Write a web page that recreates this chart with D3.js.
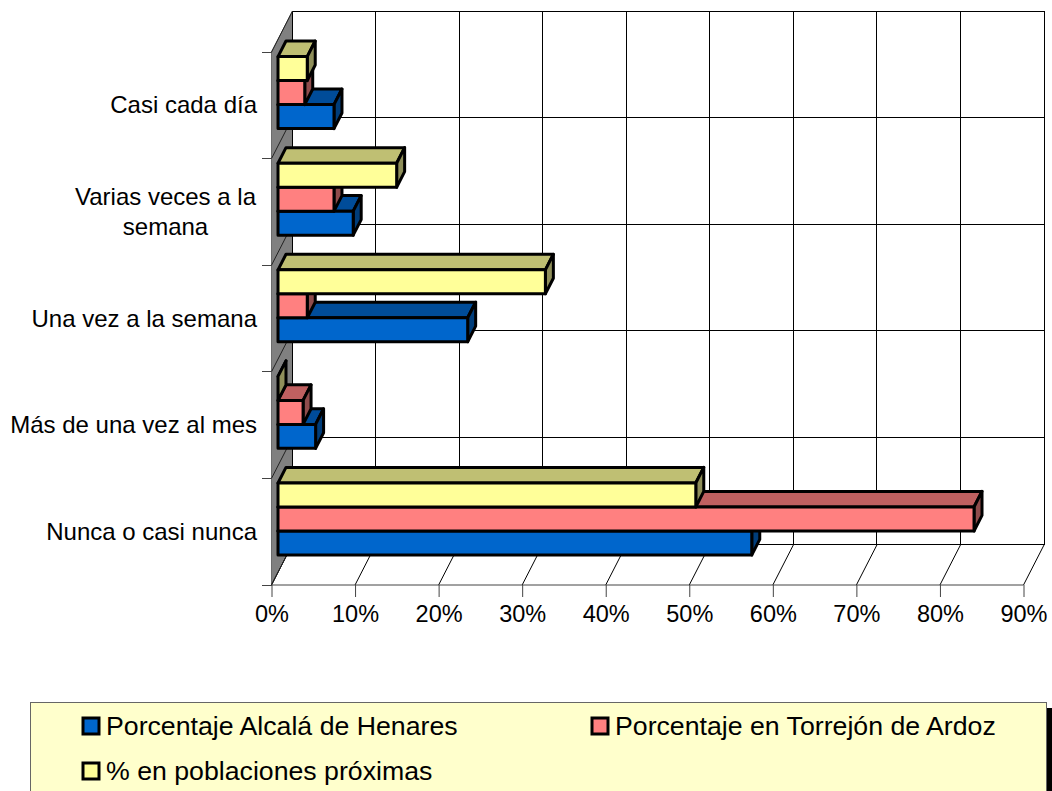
<!DOCTYPE html>
<html>
<head>
<meta charset="utf-8">
<script src="https://cdn.jsdelivr.net/npm/d3@7"></script>
<style>
    html, body { margin: 0; padding: 0; background: #fff; overflow: hidden; }
    svg { display: block; }
    text { font-family: "Liberation Sans", Arial, sans-serif; fill: #000; }
</style>
</head>
<body>
<div id="chart"></div>
<script>
// Data (top to bottom)
const categories = ["Casi cada día", "Varias veces a la semana", "Una vez a la semana", "Más de una vez al mes", "Nunca o casi nunca"];
const categoryLines = [["Casi cada día"], ["Varias veces a la", "semana"], ["Una vez a la semana"], ["Más de una vez al mes"], ["Nunca o casi nunca"]];
const seriesNames = ["Porcentaje Alcalá de Henares", "Porcentaje en Torrejón de Ardoz", "% en poblaciones próximas"];
const alcala = [6.7, 9.0, 22.7, 4.5, 56.7];
const torrejon = [3.2, 6.7, 3.5, 3.0, 83.3];
const proximas = [3.5, 14.2, 32.0, 0, 50.0];
const xTicks = [0, 10, 20, 30, 40, 50, 60, 70, 80, 90];
const fronts = ["#0066CC", "#FF8080", "#FFFF99"];
const tops = ["#004C99", "#BF6060", "#BFBF73"];
const sides = ["#003D7A", "#8F4C4C", "#8F8F5A"];

const width = 1052, height = 791;
const svg = d3.select("#chart").append("svg").attr("width", width).attr("height", height);

// Scales on the front edge of the floor
const x = d3.scaleLinear().domain([0, 90]).range([271.5, 1023.5]);
const y = d3.scaleBand().domain(categories).range([52, 585]);
const depthX = 21, depthY = -41;
const barFrom = 0.31, barTo = 0.69;   // where the bars sit in the depth

const floorY = y.range()[1];
const rowEdges = d3.range(categories.length + 1).map(i => y.range()[0] + i * y.step());
const poly = pts => pts.map(p => p.join(",")).join(" ");

// Side wall
svg.append("polygon")
    .attr("points", poly([[x(0), y.range()[0]], [x(0) + depthX, y.range()[0] + depthY], [x(0) + depthX, floorY + depthY], [x(0), floorY]]))
    .attr("fill", "#808080").attr("stroke", "#333").attr("stroke-width", 0.6);

// Grid on the back wall and floor
const grid = svg.append("g").attr("fill", "none").attr("stroke", "#000").attr("stroke-width", 1);
xTicks.forEach(t => {
    grid.append("line").attr("x1", x(t) + depthX - 0.5).attr("x2", x(t) + depthX - 0.5)
        .attr("y1", y.range()[0] + depthY).attr("y2", floorY + depthY)
        .attr("shape-rendering", "crispEdges");
    grid.append("line").attr("x1", x(t)).attr("x2", x(t) + depthX)
        .attr("y1", floorY).attr("y2", floorY + depthY);
});
rowEdges.forEach(e => {
    grid.append("line").attr("x1", x(0) + depthX).attr("x2", x(90) + depthX)
        .attr("y1", e + depthY).attr("y2", e + depthY)
        .attr("shape-rendering", "crispEdges");
    grid.append("line").attr("x1", x(0)).attr("x2", x(0) + depthX)
        .attr("y1", e).attr("y2", e + depthY).attr("stroke", "#222");
    // category tick
    grid.append("line").attr("x1", x(0) - 10).attr("x2", x(0))
        .attr("y1", e).attr("y2", e).attr("stroke", "#444")
        .attr("shape-rendering", "crispEdges");
});

// X axis
const xAxis = svg.append("g")
    .attr("transform", `translate(0,${floorY})`)
    .call(d3.axisBottom(x).tickValues(xTicks).tickFormat(d => d + "%").tickSize(12).tickPadding(8));
xAxis.select(".domain").attr("stroke", "#444").attr("d", `M${x(0)},0H${x(90)}`);
xAxis.selectAll("line").attr("stroke", "#444");
xAxis.selectAll("text").attr("font-size", 23.5).attr("font-family", '"Liberation Sans", Arial, sans-serif').attr("fill", "#000");

// Category labels
categories.forEach((c, i) => {
    const lines = categoryLines[i];
    const cy = y(c) + y.bandwidth() / 2;
    const label = svg.append("text")
        .attr("font-size", 24)
        .attr("text-anchor", lines.length > 1 ? "middle" : "end");
    lines.forEach((l, j) => {
        label.append("tspan")
            .attr("x", lines.length > 1 ? 165.5 : 257)
            .attr("y", cy + 8 + (j - (lines.length - 1) / 2) * 30)
            .text(l);
    });
});

// Bars
const barsHeight = y.step() * 0.675;
const bar = d3.scaleBand().domain([2, 1, 0]).range([0, barsHeight]);
const seriesValues = [alcala, torrejon, proximas];
const barLayer = svg.append("g").attr("stroke", "#000").attr("stroke-width", 3).attr("stroke-linejoin", "round");

categories.forEach((c, i) => {
    const top0 = y(c) + (y.step() - barsHeight) / 2 + depthY * barFrom;
    const left = x(0) + depthX * barFrom;
    const dx = depthX * (barTo - barFrom), dy = depthY * (barTo - barFrom);
    [0, 1, 2].forEach(s => {
        const right = left + x(seriesValues[s][i]) - x(0);
        const y0 = top0 + bar(s), y1 = y0 + bar.bandwidth();
        barLayer.append("polygon")
            .attr("points", poly([[left, y0], [right, y0], [right + dx, y0 + dy], [left + dx, y0 + dy]]))
            .attr("fill", tops[s]);
        barLayer.append("polygon")
            .attr("points", poly([[right, y0], [right + dx, y0 + dy], [right + dx, y1 + dy], [right, y1]]))
            .attr("fill", sides[s]);
        if (seriesValues[s][i] > 0) {
            barLayer.append("rect")
                .attr("x", left).attr("y", y0)
                .attr("width", right - left).attr("height", bar.bandwidth())
                .attr("fill", fronts[s]);
        }
    });
});

// Legend
const legend = svg.append("g");
legend.append("rect").attr("x", 36).attr("y", 708).attr("width", 1016).attr("height", 90).attr("fill", "#000");
legend.append("rect").attr("x", 30.5).attr("y", 702.5).attr("width", 1016).attr("height", 100)
    .attr("fill", "#FFFFCC").attr("stroke", "#666").attr("stroke-width", 1);

const legendPos = [[82, 735], [591, 735], [82, 780]];
seriesNames.forEach((name, s) => {
    const [lx, ly] = legendPos[s];
    legend.append("rect").attr("x", lx + 1).attr("y", ly - 17).attr("width", 16).attr("height", 16)
        .attr("fill", fronts[s]).attr("stroke", "#000").attr("stroke-width", 3);
    legend.append("text").attr("x", lx + 24).attr("y", ly).attr("font-size", 26.7).text(name);
});
</script>
</body>
</html>
